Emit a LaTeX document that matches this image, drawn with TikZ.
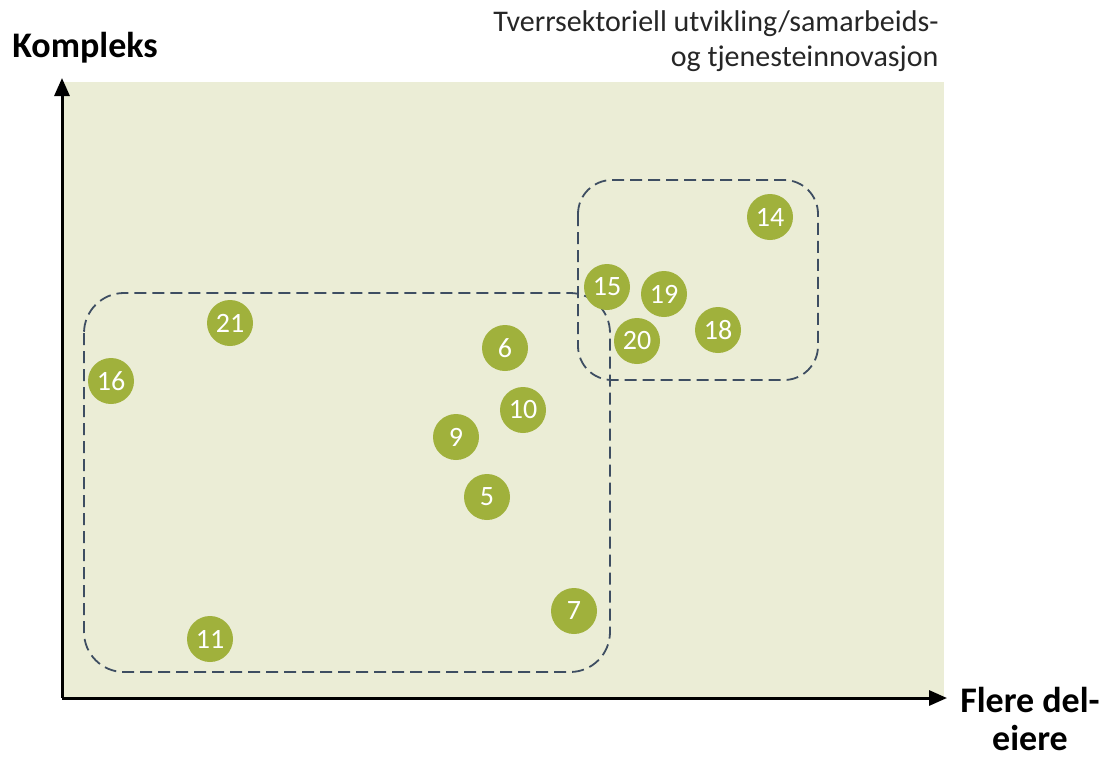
\documentclass[tikz,border=0pt]{standalone}
\usepackage{fontspec}
\setmainfont{Carlito}
\usetikzlibrary{arrows.meta}
\definecolor{bgreen}{HTML}{EBEDD6}
\definecolor{dotgreen}{HTML}{A0B13C}
\definecolor{dashc}{HTML}{3E4E62}
\tikzset{
  dot/.style={circle, fill=dotgreen, minimum size=46pt, inner sep=0pt, text=white, font=\fontsize{28}{30}\selectfont},
  axis/.style={line width=3pt, -{Triangle[length=18pt,width=15pt]}},
  group/.style={draw=dashc, line width=1.8pt, dash pattern=on 12pt off 6pt},
  axlabel/.style={font=\fontsize{36}{38}\selectfont\bfseries, align=center, inner sep=0pt},
  toplabel/.style={font=\fontsize{30}{35}\selectfont, align=right, text=black!85}
}
\begin{document}
\begin{tikzpicture}[x=1pt,y=-1pt]
\useasboundingbox (0,0) rectangle (1108,758);
\fill[bgreen] (62,82) rectangle (944,698);
\draw[group, rounded corners=40pt] (84,293) rectangle (610,672);
\draw[group, rounded corners=34pt] (578,180) rectangle (818,380);
\coordinate (o) at (62,698);
\coordinate (ytip) at (62,78);
\coordinate (xtip) at (947,698);
\draw[axis] (o) -- (ytip);
\draw[axis] (o) -- (xtip);
\node[axlabel] (ky) at (85,48) {Kompleks};
\node[axlabel] (kx) at (1030,719) {Flere del-\\eiere};
\node[toplabel, anchor=north east] (top) at (942,7) {Tverrsektoriell utvikling/samarbeids-\\og tjenesteinnovasjon};
\node[dot] (n14) at (770,217) {14};
\node[dot] (n15) at (607,287) {15};
\node[dot] (n19) at (664,294) {19};
\node[dot] (n20) at (637,341) {20};
\node[dot] (n18) at (718,330) {18};
\node[dot] (n21) at (230,323) {21};
\node[dot] (n6) at (505,348) {6};
\node[dot] (n16) at (111,381) {16};
\node[dot] (n10) at (523,410) {10};
\node[dot] (n9) at (456,437) {9};
\node[dot] (n5) at (487,497) {5};
\node[dot] (n7) at (574,611) {7};
\node[dot] (n11) at (210,639) {11};
\end{tikzpicture}
\end{document}
